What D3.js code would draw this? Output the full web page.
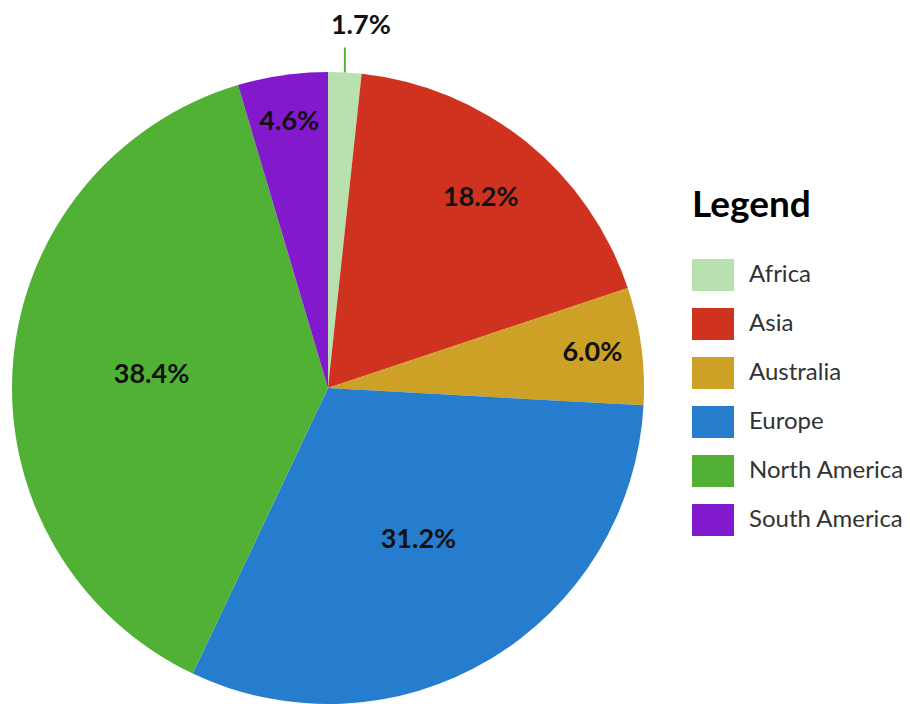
<!DOCTYPE html>
<html>
<head>
<meta charset="utf-8">
<script src="https://cdn.jsdelivr.net/npm/d3@7"></script>
<style>
  body { margin: 0; background: #fff; }
  svg { display: block; font-family: Lato, "Open Sans", sans-serif; }
</style>
</head>
<body>
<div id="container"></div>
<script>
// data
const regions = ["Africa", "Asia", "Australia", "Europe", "North America", "South America"];
const shares = [1.7, 18.2, 6.0, 31.2, 38.4, 4.6];
const colors = ["#b9e1b0", "#cf321f", "#cca126", "#277dcd", "#50b135", "#8319cd"];

const width = 910, height = 704;
const cx = 328, cy = 388, radius = 316;

const svg = d3.select("#container").append("svg")
    .attr("width", width)
    .attr("height", height);

const data = regions.map((r, i) => ({ region: r, value: shares[i] }));

const color = d3.scaleOrdinal().domain(regions).range(colors);

const pie = d3.pie().value(d => d.value).sort(null);
const arc = d3.arc().innerRadius(0).outerRadius(radius);

const g = svg.append("g").attr("transform", `translate(${cx},${cy})`);

const arcs = pie(data);

// slices
g.selectAll(".slice")
    .data(arcs)
    .enter().append("path")
    .attr("class", "slice")
    .attr("d", arc)
    .attr("fill", d => color(d.data.region));

// label distance: small slices sit near the rim, big ones nearer the middle
const total = d3.sum(shares);
function labelRadius(d) {
    const s = d.data.value / total;
    return radius * (s < 0.25 ? 0.88 - 0.6 * s : 0.56);
}

// inside labels
const inside = arcs.filter(d => d.data.value / total >= 0.03);
g.selectAll(".label")
    .data(inside)
    .enter().append("text")
    .attr("class", "label")
    .attr("transform", d => {
        const a = (d.startAngle + d.endAngle) / 2, r = labelRadius(d);
        return `translate(${Math.sin(a) * r},${-Math.cos(a) * r})`;
    })
    .attr("text-anchor", "middle")
    .attr("dy", "0.3em")
    .style("font-size", "27px")
    .style("font-weight", "bold")
    .attr("fill", "#111")
    .text(d => d.data.value.toFixed(1) + "%");

// outside labels with leader line
const outside = arcs.filter(d => d.data.value / total < 0.03);
outside.forEach(d => {
    const a = (d.startAngle + d.endAngle) / 2;
    const x0 = Math.sin(a) * radius, y0 = -Math.cos(a) * radius;
    g.append("line")
        .attr("x1", x0).attr("y1", y0)
        .attr("x2", x0).attr("y2", y0 - 25)
        .attr("stroke", color("North America"))
        .attr("stroke-width", 2);
    g.append("text")
        .attr("x", x0 + 16)
        .attr("y", y0 - 38)
        .attr("text-anchor", "middle")
        .style("font-size", "27px")
        .style("font-weight", "bold")
        .attr("fill", "#111")
        .text(d.data.value.toFixed(1) + "%");
});

// legend
const legend = svg.append("g").attr("transform", "translate(692,0)");

legend.append("text")
    .attr("x", 0)
    .attr("y", 217)
    .style("font-size", "37px")
    .style("font-weight", "bold")
    .attr("fill", "#000")
    .text("Legend");

const item = legend.selectAll(".item")
    .data(regions)
    .enter().append("g")
    .attr("class", "item")
    .attr("transform", (d, i) => `translate(0,${259 + i * 49})`);

item.append("rect")
    .attr("width", 42)
    .attr("height", 32)
    .attr("fill", d => color(d));

item.append("text")
    .attr("x", 57)
    .attr("y", 15)
    .attr("dy", "0.35em")
    .style("font-size", "24px")
    .attr("fill", "#333")
    .text(d => d);
</script>
</body>
</html>
